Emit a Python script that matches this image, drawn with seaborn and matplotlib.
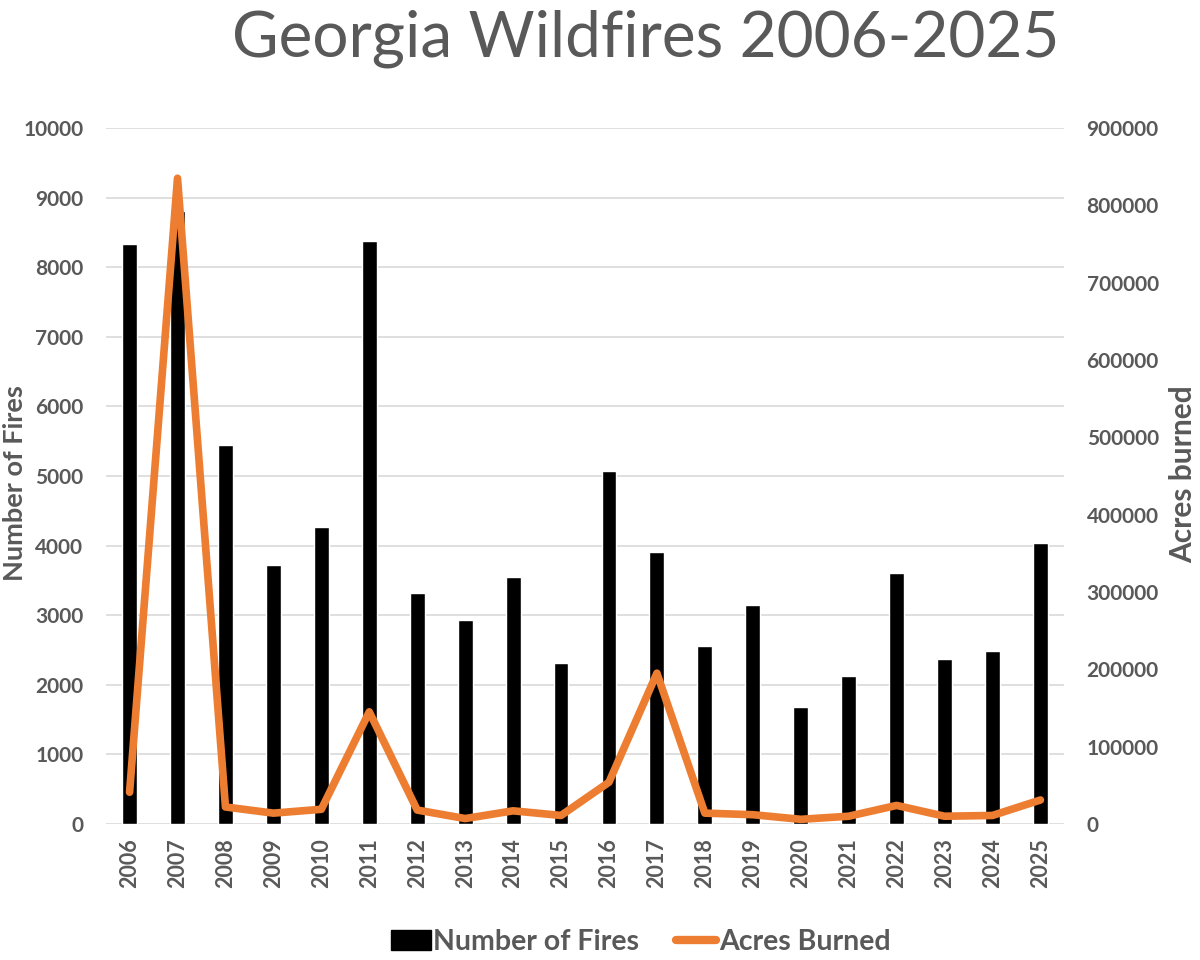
import numpy as np
import pandas as pd
import matplotlib
matplotlib.use("Agg")
import matplotlib.pyplot as plt
import seaborn as sns
from matplotlib.patches import Patch
from matplotlib.lines import Line2D

# === data ===
years = ["2006", "2007", "2008", "2009", "2010", "2011", "2012", "2013", "2014", "2015",
         "2016", "2017", "2018", "2019", "2020", "2021", "2022", "2023", "2024", "2025"]
fires = [8335, 8800, 5440, 3725, 4260, 8380, 3316, 2926, 3547, 2318,
         5073, 3910, 2556, 3151, 1684, 2127, 3606, 2371, 2483, 4042]
acres = [41000, 835000, 22000, 14000, 19000, 145000, 18000, 7000, 17000, 11000,
         54000, 195000, 14000, 12000, 6000, 10000, 24000, 10000, 11000, 31000]

fires_ticks = list(range(0, 10001, 1000))
acres_ticks = list(range(0, 900001, 100000))

GREY = "#595959"
ORANGE = "#ED7D31"

sns.set_theme(style="white")
plt.rcParams['font.family'] = ['Lato', 'DejaVu Sans']

df = pd.DataFrame({"year": years, "fires": fires, "acres": acres})
df["pos"] = np.arange(len(df))

fig = plt.figure(figsize=(12, 9.6), dpi=100)
ax = fig.add_axes([0.088, 0.1417, 0.799, 0.725])

# bars: number of fires
sns.barplot(data=df, x="year", y="fires", color="black", width=0.31,
            saturation=1, ax=ax, zorder=2)
ax.set_ylim(0, 10000)
ax.set_yticks(fires_ticks)
ax.set_xlim(-0.5, len(years) - 0.5)
ax.grid(axis="y", color="#D9D9D9", linewidth=1.2, zorder=0)
ax.set_axisbelow(True)
for s in ax.spines.values():
    s.set_visible(False)
ax.tick_params(axis="y", length=0, pad=16, labelsize=15, labelcolor=GREY)
ax.tick_params(axis="x", length=0, pad=10, labelsize=15.5, labelcolor=GREY, rotation=90)
for lab in ax.get_xticklabels() + ax.get_yticklabels():
    lab.set_fontweight("bold")
ax.set_xlabel("")
ax.set_ylabel("Number of Fires", fontsize=19.5, color=GREY, fontweight="bold")
ax.yaxis.set_label_coords(-0.082, 0.49)

# line: acres burned on secondary axis
ax2 = ax.twinx()
sns.lineplot(data=df, x="pos", y="acres", color=ORANGE, linewidth=5.5, ax=ax2,
             solid_joinstyle="round", solid_capstyle="round")
ax2.set_ylim(0, 900000)
ax2.set_yticks(acres_ticks)
ax2.set_xlim(-0.5, len(years) - 0.5)
for s in ax2.spines.values():
    s.set_visible(False)
ax2.tick_params(axis="y", length=0, pad=16, labelsize=15, labelcolor=GREY)
for lab in ax2.get_yticklabels():
    lab.set_fontweight("bold")
ax2.set_ylabel("Acres burned", fontsize=21.5, color=GREY, fontweight="bold")
ax2.yaxis.set_label_coords(1.109, 0.503)
ax2.set_xlabel("")

fig.text(0.538, 1 - 56 / 960, "Georgia Wildfires 2006-2025", fontsize=46, color=GREY,
         ha="center", va="baseline")

handles = [Patch(facecolor="black", edgecolor="black"),
           Line2D([0], [0], color=ORANGE, linewidth=6, solid_capstyle="round")]
leg = fig.legend(handles, ["Number of Fires", "Acres Burned"], loc="center",
                 bbox_to_anchor=(0.534, 0.019), ncol=2, frameon=False,
                 prop={"size": 20.5, "weight": "bold"}, handlelength=1.4,
                 handletextpad=0.1, columnspacing=1.3)
for t in leg.get_texts():
    t.set_color(GREY)

fig.savefig("out.png", dpi=100)
